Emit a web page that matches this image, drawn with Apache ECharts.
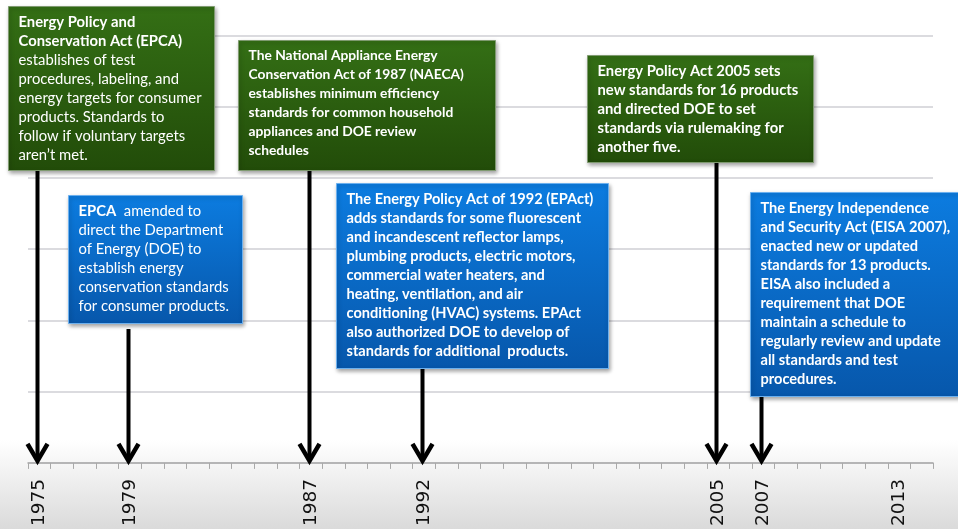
<!DOCTYPE html>
<html lang="en">
<head>
<meta charset="UTF-8" />
<title>Appliance standards timeline</title>
<style>
  html, body {
    margin: 0; padding: 0;
    width: 958px; height: 529px;
    overflow: hidden;
    background: linear-gradient(to bottom, #ffffff 0px, #ffffff 440px, #f3f3f3 470px, #dadada 529px);
  }
  #chart { width: 958px; height: 529px; }
</style>
</head>
<body>
<div id="chart"></div>
<script src="https://cdn.jsdelivr.net/npm/echarts@6/dist/echarts.min.js"></script>
<script>
// axis categories (one band per year) and the years that get a label
const years = ['1975','1976','1977','1978','1979','1980','1981','1982','1983','1984',
               '1985','1986','1987','1988','1989','1990','1991','1992','1993','1994',
               '1995','1996','1997','1998','1999','2000','2001','2002','2003','2004',
               '2005','2006','2007','2008','2009','2010','2011','2012','2013','2014'];
const labelYears = ['1975','1979','1987','1992','2005','2007','2013'];

// events: year of the arrow and where the arrow starts (grid units above the axis)
const eventYears = ['1975','1979','1987','1992','2005','2007'];
const arrowTops  = [4.12, 1.88, 4.12, 1.33, 4.22, 0.94];

// callout texts ({b|..} bold, {n|..} normal)
const noteEPCA = '{b|Energy Policy and}\n{b|Conservation Act (EPCA)}\n{n|establishes of test}\n{n|procedures, labeling, and}\n{n|energy targets for consumer}\n{n|products. Standards to}\n{n|follow if voluntary targets}\n{n|aren\u2019t met.}';
const noteAmend = '{b|EPCA}{n|  amended to}\n{n|direct the Department}\n{n|of Energy (DOE) to}\n{n|establish energy}\n{n|conservation standards}\n{n|for consumer products.}';
const noteNAECA = '{b|The National Appliance Energy}\n{b|Conservation Act of 1987 (NAECA)}\n{b|establishes minimum efficiency}\n{b|standards for common household}\n{b|appliances and DOE review}\n{b|schedules}';
const noteEPAct = '{b|The Energy Policy Act of 1992 (EPAct)}\n{b|adds standards for some fluorescent}\n{b|and incandescent reflector lamps,}\n{b|plumbing products, electric motors,}\n{b|commercial water heaters, and}\n{b|heating, ventilation, and air}\n{b|conditioning (HVAC) systems. EPAct}\n{b|also authorized DOE to develop of}\n{b|standards for additional  products.}';
const noteEPA05 = '{b|Energy Policy Act 2005 sets}\n{b|new standards for 16 products}\n{b|and directed DOE to set}\n{b|standards via rulemaking for}\n{b|another five.}';
const noteEISA = '{b|The Energy Independence}\n{b|and Security Act (EISA 2007),}\n{b|enacted new or updated}\n{b|standards for 13 products.}\n{b|EISA also included a}\n{b|requirement that DOE}\n{b|maintain a schedule to}\n{b|regularly review and update}\n{b|all standards and test}\n{b|procedures.}';

const FONT = 'Lato, "Open Sans", sans-serif';

const green = {
  fill: new echarts.graphic.LinearGradient(0, 0, 0, 1, [
    { offset: 0, color: '#346f15' }, { offset: 1, color: '#224c09' }
  ]),
  stroke: '#7f9a70'
};
const blue = {
  fill: new echarts.graphic.LinearGradient(0, 0, 0, 1, [
    { offset: 0, color: '#0c7ce0' }, { offset: 1, color: '#0757ab' }
  ]),
  stroke: '#6cb0ee'
};

function callout(x, y, w, h, theme, text, fs) {
  return {
    type: 'group',
    left: x, top: y,
    z: 100,
    children: [
      {
        type: 'rect',
        z: 100,
        shape: { x: 0, y: 0, width: w, height: h },
        style: {
          fill: theme.fill, stroke: theme.stroke, lineWidth: 1,
          shadowBlur: 4, shadowOffsetX: 1, shadowOffsetY: 2, shadowColor: 'rgba(0,0,0,0.35)'
        }
      },
      {
        type: 'text',
        z: 101,
        x: 10, y: 6,
        style: {
          text: text,
          fill: '#fff',
          lineHeight: 19,
          rich: {
            b: { fontFamily: FONT, fontSize: fs, fontWeight: 'bold', fill: '#fff', lineHeight: 19 },
            n: { fontFamily: FONT, fontSize: fs, fontWeight: 'normal', fill: '#fff', lineHeight: 19 }
          }
        }
      }
    ]
  };
}

const chart = echarts.init(document.getElementById('chart'));

chart.setOption({
  animation: false,
  backgroundColor: 'transparent',
  grid: { left: 28, right: 25, top: 35.5, bottom: 62 },
  xAxis: {
    type: 'category',
    data: years,
    boundaryGap: true,
    axisLine: { lineStyle: { color: '#a9a9a9', width: 1.5 } },
    axisTick: { show: true, interval: 0, length: 6, inside: false, lineStyle: { color: '#a9a9a9', width: 1 } },
    axisLabel: {
      interval: (i, v) => labelYears.includes(v),
      rotate: 90,
      margin: 16,
      fontFamily: '"DejaVu Sans", Verdana, sans-serif',
      fontSize: 18.5,
      color: '#111'
    },
    splitLine: { show: false }
  },
  yAxis: {
    type: 'value',
    min: 0, max: 6, interval: 1,
    axisLine: { show: false },
    axisTick: { show: false },
    axisLabel: { show: false },
    splitLine: { lineStyle: { color: '#cfcfd4', width: 1.5 } }
  },
  series: [{
    type: 'custom',
    clip: false,
    z: 5,
    data: eventYears.map((y, i) => [y, arrowTops[i]]),
    renderItem: function (params, api) {
      const top = api.coord([api.value(0), api.value(1)]);
      const tip = api.coord([api.value(0), 0]);
      const x = Math.round(tip[0]) - 1.5, y = tip[1] - 1;
      return {
        type: 'group',
        children: [
          { type: 'line', shape: { x1: x, y1: top[1], x2: x, y2: y - 3 },
            style: { stroke: '#000', lineWidth: 4 } },
          { type: 'polyline', shape: { points: [[x - 10, y - 18], [x, y - 1], [x + 10, y - 18]] },
            style: { stroke: '#000', lineWidth: 4.5, fill: null, lineJoin: 'miter' } }
        ]
      };
    }
  }],
  graphic: [
    callout(8, 6, 206, 164, green, noteEPCA, 14.8),
    callout(238, 40, 257, 130, green, noteNAECA, 13.8),
    callout(587, 55, 226, 107, green, noteEPA05, 14.8),
    callout(68, 195, 174, 128, blue, noteAmend, 14.8),
    callout(336, 183, 272, 185, blue, noteEPAct, 14.6),
    callout(750, 192, 230, 204, blue, noteEISA, 14.6)
  ]
});
</script>
</body>
</html>
